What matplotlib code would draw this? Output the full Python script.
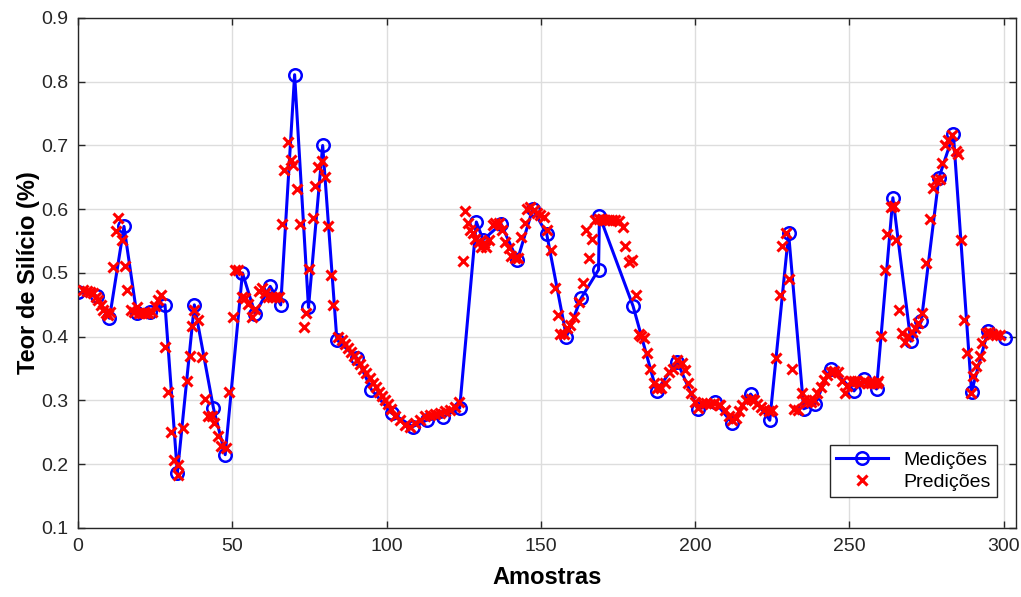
import numpy as np
import matplotlib
matplotlib.use("Agg")
import matplotlib.pyplot as plt

plt.rcParams["font.family"] = ["Liberation Sans", "DejaVu Sans"]

# Medições (measured silicon content)
med_x = [0, 6, 10.2, 14.9, 19, 23.4, 28.2, 32.2, 37.7, 43.9, 47.7, 53.3, 57.4,
         62.3, 65.7, 70.2, 74.7, 79.3, 83.9, 90.5, 95.1, 101.7, 108.5, 113,
         118.3, 123.7, 129.1, 131.3, 137.1, 142.4, 147.4, 151.9, 158.3, 163,
         168.7, 169.0, 179.9, 187.5, 194.2, 200.9, 206.6, 211.9, 218, 224.2,
         230.3, 235.2, 238.8, 243.9, 251.5, 254.7, 258.8, 264.1, 269.9, 273.3,
         279, 283.7, 289.6, 294.9, 300.4]
med_y = [0.470, 0.464, 0.429, 0.573, 0.437, 0.439, 0.450, 0.186, 0.450, 0.288,
         0.215, 0.500, 0.436, 0.479, 0.450, 0.811, 0.446, 0.700, 0.395, 0.366,
         0.317, 0.280, 0.259, 0.269, 0.274, 0.288, 0.580, 0.552, 0.577, 0.520,
         0.601, 0.561, 0.400, 0.460, 0.505, 0.590, 0.448, 0.315, 0.361, 0.286,
         0.297, 0.265, 0.310, 0.269, 0.562, 0.287, 0.294, 0.350, 0.315, 0.333,
         0.318, 0.618, 0.393, 0.424, 0.649, 0.718, 0.314, 0.409, 0.398]

# Predições (model output)
pred_x = [1.7, 2.8, 3.9, 5.0, 5.7, 6.6, 7.5, 8.2, 9.0, 9.8, 10.4, 11.2, 12.2,
          13.1, 14.2, 15.2, 16.0, 17.2, 18.3, 19.0, 19.8, 20.6, 21.7, 22.8,
          23.9, 25.0, 25.8, 26.9, 28.2, 29.3, 30.2, 31.2, 32.3, 32.5, 33.9,
          35.2, 36.3, 36.9, 37.7, 39.0, 40.1, 41.2, 42.1, 43.4, 44.2, 45.3,
          46.3, 47.9, 49.0, 50.1, 50.9, 52.0, 53.1, 54.2, 55.2, 56.3, 57.4,
          58.7, 59.6, 60.6, 61.7, 62.8, 63.9, 65.0, 66.1, 66.9, 68.0, 69.1,
          69.8, 70.9, 72.0, 73.1, 74.0, 74.9, 76.0, 76.9, 77.7, 79.0, 79.9,
          81.0, 82.0, 82.8, 84.4, 85.5, 86.5, 87.5, 88.5, 89.5, 90.5, 91.5,
          92.5, 93.5, 94.5, 95.5, 96.5, 97.5, 98.5, 99.5, 100.5, 101.5, 102.8,
          104.4, 106.0, 107.7, 109.3, 110.9, 112.5, 114.2, 115.8, 117.4, 119.0,
          120.7, 122.3, 123.4, 124.8, 125.5, 126.4, 127.1, 127.9, 128.8, 129.8,
          130.7, 131.5, 132.2, 133.3, 134.4, 135.3, 136.3, 137.4, 138.5, 139.6,
          140.4, 141.5, 142.6, 143.7, 144.8, 145.5, 146.6, 147.7, 148.8, 149.8,
          150.9, 152.0, 153.3, 154.7, 155.5, 156.3, 157.4, 158.5, 159.6, 160.7,
          162.3, 163.7, 164.7, 165.5, 166.6, 167.7, 168.8, 169.9, 170.9, 172.0,
          173.1, 174.2, 175.3, 176.6, 177.4, 178.7, 179.6, 180.7, 181.7, 182.6,
          183.5, 184.4, 185.5, 186.6, 187.7, 189.1, 190.2, 191.5, 192.8, 194.2,
          195.6, 196.7, 197.8, 198.8, 199.9, 201.0, 202.1, 203.4, 204.7, 206.1,
          207.7, 208.2, 209.6, 210.9, 212.0, 213.1, 214.2, 215.3, 216.6, 218.0,
          219.1, 220.1, 221.2, 222.3, 223.9, 225.0, 226.3, 227.4, 228.2, 229.3,
          230.4, 231.5, 232.2, 233.4, 234.5, 235.3, 236.4, 237.4, 238.5, 239.6,
          240.7, 241.8, 242.8, 243.9, 245.0, 246.4, 247.5, 248.6, 249.3, 250.4,
          251.5, 252.6, 253.6, 254.7, 255.8, 256.9, 258.0, 259.1, 259.4, 260.1,
          261.5, 262.3, 263.4, 264.5, 265.2, 266.1, 266.9, 268.0, 269.1, 270.2,
          271.3, 272.3, 273.6, 274.9, 276.1, 277.1, 278.0, 279.3, 280.1, 280.9,
          282.1, 283.2, 284.5, 285.3, 286.1, 287.2, 288.2, 289.3, 290.1, 291.0,
          292.2, 293.1, 294.2, 295.3, 296.3, 297.4, 298.7]
pred_y = [0.474, 0.472, 0.470, 0.468, 0.463, 0.458, 0.450, 0.442, 0.437, 0.434,
          0.439, 0.509, 0.566, 0.586, 0.552, 0.511, 0.473, 0.442, 0.439, 0.447,
          0.437, 0.437, 0.438, 0.438, 0.439, 0.448, 0.458, 0.465, 0.384, 0.314,
          0.251, 0.207, 0.183, 0.199, 0.257, 0.331, 0.370, 0.417, 0.442, 0.426,
          0.368, 0.302, 0.276, 0.275, 0.265, 0.244, 0.229, 0.225, 0.313, 0.431,
          0.505, 0.505, 0.463, 0.460, 0.452, 0.431, 0.444, 0.471, 0.476, 0.469,
          0.462, 0.463, 0.462, 0.462, 0.577, 0.662, 0.706, 0.677, 0.669, 0.631,
          0.577, 0.415, 0.437, 0.507, 0.586, 0.637, 0.667, 0.675, 0.650, 0.574,
          0.497, 0.450, 0.400, 0.395, 0.388, 0.382, 0.376, 0.370, 0.364, 0.357,
          0.350, 0.343, 0.336, 0.328, 0.321, 0.314, 0.307, 0.300, 0.294, 0.287,
          0.275, 0.270, 0.262, 0.259, 0.264, 0.270, 0.275, 0.277, 0.279, 0.281,
          0.283, 0.285, 0.290, 0.298, 0.519, 0.598, 0.578, 0.567, 0.562, 0.554,
          0.549, 0.541, 0.547, 0.541, 0.552, 0.575, 0.578, 0.578, 0.567, 0.549,
          0.539, 0.526, 0.523, 0.523, 0.556, 0.578, 0.601, 0.604, 0.599, 0.594,
          0.591, 0.588, 0.567, 0.536, 0.476, 0.434, 0.405, 0.405, 0.413, 0.418,
          0.431, 0.455, 0.485, 0.568, 0.524, 0.553, 0.583, 0.584, 0.584, 0.583,
          0.583, 0.583, 0.583, 0.582, 0.572, 0.542, 0.518, 0.520, 0.465, 0.405,
          0.401, 0.398, 0.374, 0.350, 0.328, 0.319, 0.319, 0.328, 0.345, 0.349,
          0.364, 0.359, 0.348, 0.327, 0.311, 0.298, 0.288, 0.296, 0.296, 0.294,
          0.296, 0.293, 0.293, 0.285, 0.275, 0.270, 0.272, 0.283, 0.293, 0.301,
          0.303, 0.301, 0.295, 0.289, 0.285, 0.283, 0.285, 0.366, 0.465, 0.542,
          0.562, 0.490, 0.349, 0.286, 0.285, 0.311, 0.301, 0.298, 0.298, 0.301,
          0.311, 0.321, 0.332, 0.340, 0.345, 0.347, 0.345, 0.330, 0.312, 0.322,
          0.330, 0.330, 0.330, 0.327, 0.330, 0.328, 0.327, 0.327, 0.327, 0.330,
          0.401, 0.505, 0.561, 0.604, 0.605, 0.552, 0.442, 0.406, 0.391, 0.401,
          0.408, 0.413, 0.421, 0.438, 0.515, 0.584, 0.633, 0.646, 0.648, 0.672,
          0.701, 0.708, 0.716, 0.692, 0.687, 0.552, 0.426, 0.374, 0.312, 0.338,
          0.354, 0.370, 0.390, 0.406, 0.408, 0.405, 0.403, 0.403]

fig = plt.figure(figsize=(10.21, 5.97), dpi=100)
ax = fig.add_axes([0.0764, 0.1156, 0.9187, 0.8543])

ax.plot(med_x, med_y, color="#0000ff", linewidth=2.2, marker="o",
        markersize=9, markerfacecolor="none", markeredgewidth=1.8,
        label="Medições", zorder=2)
ax.plot(pred_x, pred_y, linestyle="none", marker="x", color="#ff0000",
        markersize=6.5, markeredgewidth=2.2, label="Predições", zorder=3)

ax.set_xlim(0, 304)
ax.set_ylim(0.1, 0.9)
ax.set_xticks(np.arange(0, 301, 50))
ax.set_yticks(np.arange(0.1, 0.91, 0.1))
ax.set_yticklabels([f"{v:.1f}" for v in np.arange(0.1, 0.91, 0.1)])

ax.grid(True, color="#dddddd", linewidth=1.0)
ax.set_axisbelow(True)
ax.tick_params(direction="in", top=True, right=True, labelsize=14,
               length=5, width=1.0, colors="#262626", pad=7)
for s in ax.spines.values():
    s.set_color("#262626")
    s.set_linewidth(1.0)

ax.set_xlabel("Amostras", fontsize=17, fontweight="bold", labelpad=8)
ax.set_ylabel("Teor de Silício (%)", fontsize=17, fontweight="bold", labelpad=1)

leg = ax.legend(loc="lower right", bbox_to_anchor=(0.9797, 0.0608),
                fontsize=14, fancybox=False, framealpha=1,
                edgecolor="#262626", borderaxespad=0,
                handlelength=2.7, borderpad=0.3, labelspacing=0.25)
leg.get_frame().set_linewidth(1.0)

fig.savefig("out.png", dpi=100)
